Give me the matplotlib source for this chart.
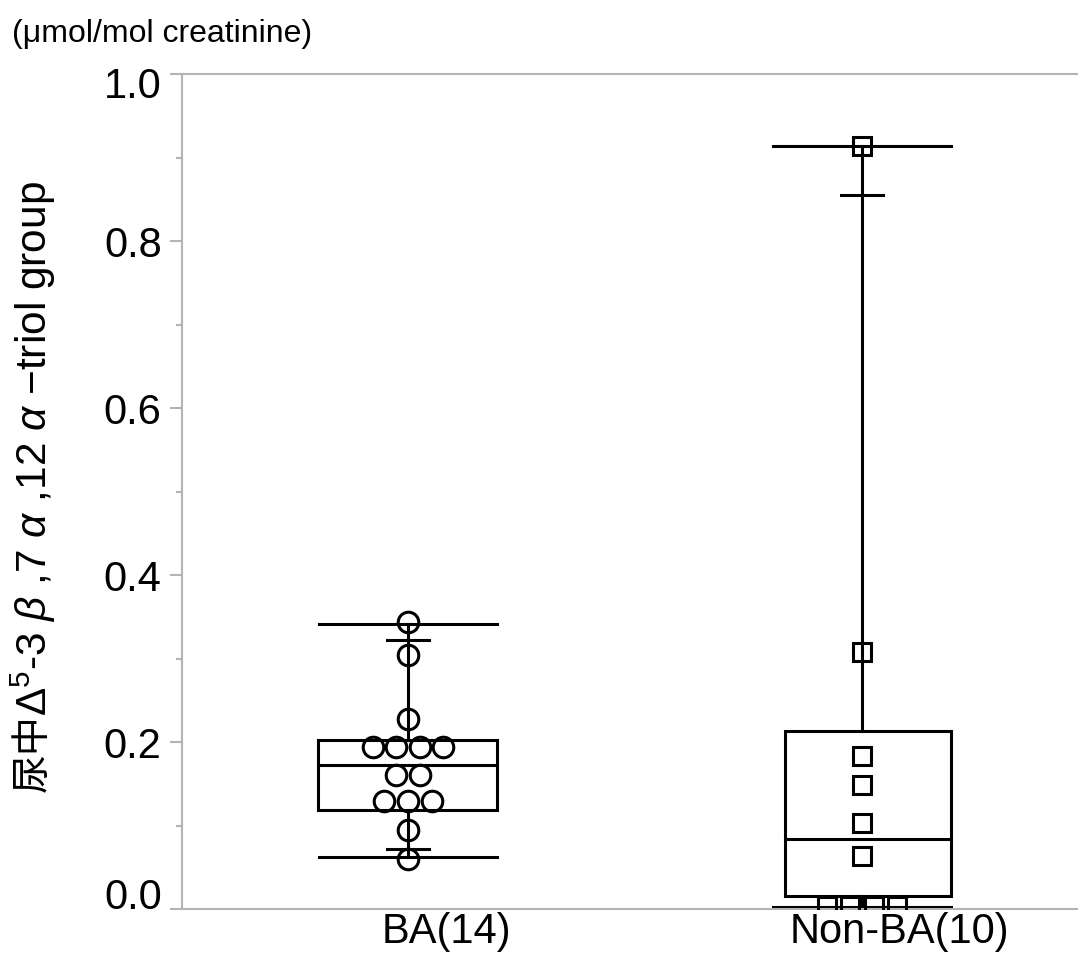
"""
Box plot of urinary triol group levels, BA vs Non-BA.
"""

import numpy as np
import matplotlib.pyplot as plt
from matplotlib.transforms import ScaledTranslation

# ── Data ─────────────────────────────────────────────────────────────────────
groups      = ['BA(14)', 'Non-BA(10)']
ba_vals     = [0.344, 0.304, 0.228,
               0.194, 0.194, 0.194, 0.194,
               0.161, 0.161,
               0.129, 0.129, 0.129,
               0.095, 0.060]
nonba_vals  = [0.914, 0.308, 0.183, 0.149, 0.103, 0.063,
               0.004, 0.004, 0.004, 0.004]

# box statistics per group: q1, median, q3, p10, p90, min, max
q1_vals     = [0.119, 0.016]
median_vals = [0.172, 0.084]
q3_vals     = [0.202, 0.2135]
p10_vals    = [0.0715, None]
p90_vals    = [0.322, 0.855]
min_vals    = [0.062, 0.002]
max_vals    = [0.341, 0.914]

markers = ['o', 's']
msizes  = [14.8, 13.6]

plt.rcParams['font.family'] = ['Liberation Sans', 'Noto Sans CJK JP', 'DejaVu Sans']
plt.rcParams['mathtext.fontset'] = 'custom'
plt.rcParams['mathtext.rm'] = 'Liberation Sans'
plt.rcParams['mathtext.it'] = 'Liberation Sans:italic'

fig = plt.figure(figsize=(10.78, 9.59), dpi=100)
ax = fig.add_axes([0.1688, 0.0521, 0.8312, 0.8707])

lw = 2.2
step = 0.052          # horizontal spread of tied points
box_left  = [-0.198, -0.170]
box_right = [0.196, 0.196]
cap_half  = 0.196
tick_half = 0.046

for i, vals in enumerate([ba_vals, nonba_vals]):
    x0 = i + 1
    # whiskers (outside the box only)
    ax.plot([x0, x0], [q3_vals[i], max_vals[i]], color='black', lw=lw, zorder=2)
    ax.plot([x0, x0], [min_vals[i], q1_vals[i]], color='black', lw=lw, zorder=2)
    # box
    xl, xr = x0 + box_left[i], x0 + box_right[i]
    ax.plot([xl, xr, xr, xl, xl],
            [q1_vals[i], q1_vals[i], q3_vals[i], q3_vals[i], q1_vals[i]],
            color='black', lw=lw, zorder=2, solid_joinstyle='miter')
    ax.plot([xl, xr], [median_vals[i]] * 2, color='black', lw=lw, zorder=2)
    # range lines and quantile ticks
    for v in (min_vals[i], max_vals[i]):
        ax.plot([x0 - cap_half, x0 + cap_half], [v, v], color='black', lw=lw, zorder=2)
    for v in (p10_vals[i], p90_vals[i]):
        if v is not None:
            ax.plot([x0 - tick_half, x0 + tick_half], [v, v], color='black', lw=lw, zorder=2)

    # points, tied values spread sideways
    vals = np.asarray(vals)
    xs = np.zeros_like(vals)
    for v in np.unique(vals):
        idx = np.where(vals == v)[0]
        n = len(idx)
        xs[idx] = x0 + (np.arange(n) - (n - 1) / 2) * step
    ax.plot(xs, vals, linestyle='none', marker=markers[i], ms=msizes[i],
            mfc='none', mec='black', mew=2.2, zorder=3)

# ── Axes styling ─────────────────────────────────────────────────────────────
ax.set_xlim(0.502, 2.476)
ax.set_ylim(0, 1.0)
ax.set_xticks([1, 2])
ax.set_xticklabels(groups, fontsize=30)
ax.tick_params(axis='x', length=0, pad=2)
for lab in ax.get_xticklabels():
    lab.set_transform(lab.get_transform() + ScaledTranslation(0.38, 0, fig.dpi_scale_trans))

yt = np.arange(0, 1.01, 0.2)
ax.set_yticks(yt)
ax.set_yticks(np.arange(0.1, 1.0, 0.2), minor=True)
ax.set_yticklabels([f'{v:.1f}' for v in yt], fontsize=30)
ax.tick_params(axis='y', which='major', length=8.6, width=1.5, color='#b4b4b4', pad=6)
ax.tick_params(axis='y', which='minor', length=4.3, width=1.5, color='#b4b4b4')
labels = ax.get_yticklabels()
labels[0].set_transform(labels[0].get_transform()
                        + ScaledTranslation(0, 0.155, fig.dpi_scale_trans))
labels[-1].set_transform(labels[-1].get_transform()
                         + ScaledTranslation(0, -0.08, fig.dpi_scale_trans))

for side in ('left', 'top', 'bottom'):
    ax.spines[side].set_color('#b4b4b4')
    ax.spines[side].set_linewidth(1.5)
ax.spines['right'].set_visible(False)

fig.text(0.011, 1 - 34 / 959, '(μmol/mol creatinine)', fontsize=23,
         ha='left', va='center')
# y label: CJK part and the chemical name with italic Greek
fig.text(0.030, 1 - 792 / 959, '尿中', fontsize=28,
         family=['Noto Sans CJK JP', 'DejaVu Sans'],
         rotation=90, ha='center', va='bottom')
fig.text(0.031, 1 - 716 / 959,
         r'$\Delta^{5}$-3 $\beta$ ,7 $\alpha$ ,12 $\alpha$ −triol group',
         fontsize=30.5, rotation=90, ha='center', va='bottom')

fig.savefig('out.png', dpi=100)
